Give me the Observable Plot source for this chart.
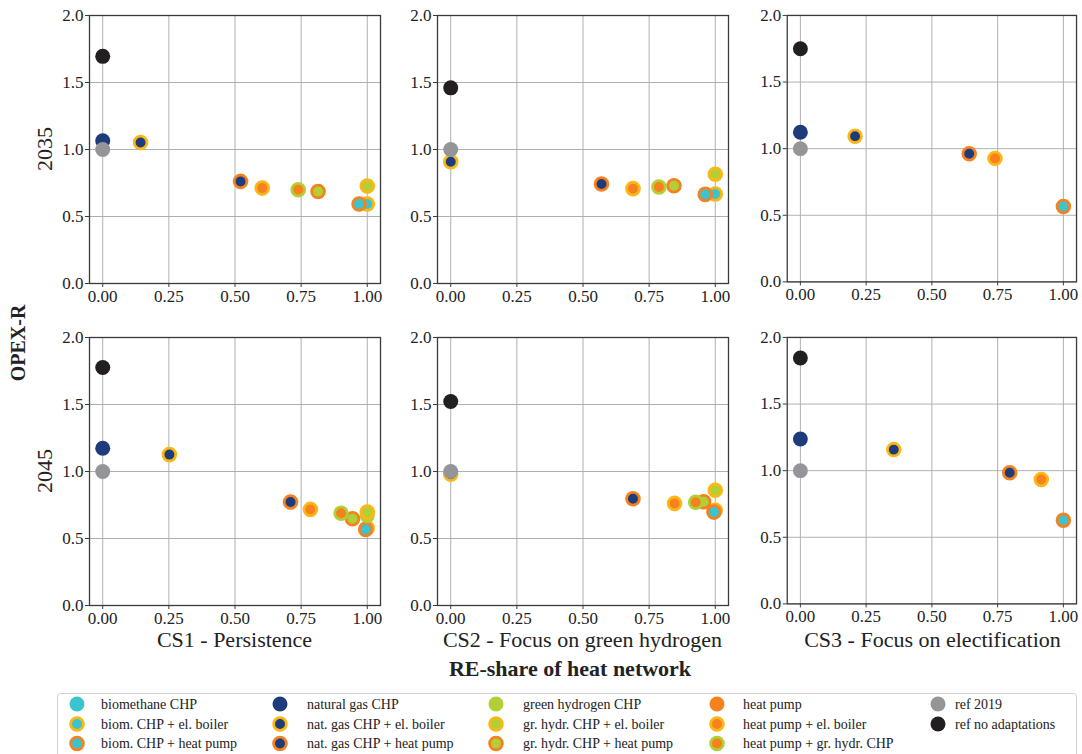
<!DOCTYPE html>
<html><head><meta charset="utf-8">
<script src="https://cdn.jsdelivr.net/npm/d3@7"></script>
<script src="https://cdn.jsdelivr.net/npm/@observablehq/plot@0.6"></script>
<style>
body{margin:0;background:#fff;}
#fig{position:relative;width:1082px;height:754px;font-family:"Liberation Serif","Times New Roman",serif;color:#222;overflow:hidden;background:#fff;}
.panel{position:absolute;}
.panel svg text{font-family:"Liberation Serif","Times New Roman",serif;}
.lbl{position:absolute;white-space:nowrap;transform:translate(-50%,-50%);line-height:1;}
.rot{transform:translate(-50%,-50%) rotate(-90deg);}
</style></head><body><div id="fig"></div>
<script>
// ---- categories (legend order = drawing order) ----
const categories = [
  "biomethane CHP", "biom. CHP + el. boiler", "biom. CHP + heat pump",
  "natural gas CHP", "nat. gas CHP + el. boiler", "nat. gas CHP + heat pump",
  "green hydrogen CHP", "gr. hydr. CHP + el. boiler", "gr. hydr. CHP + heat pump",
  "heat pump", "heat pump + el. boiler", "heat pump + gr. hydr. CHP",
  "ref 2019", "ref no adaptations"
];
const CYAN="#3cc3ce", NAVY="#1e3c7c", GREEN="#b2cf37", ORANGE="#f5821f", YELLOW="#fdb714", GREY="#939598", BLACK="#231f20";
const faceColors = [CYAN,CYAN,CYAN, NAVY,NAVY,NAVY, GREEN,GREEN,GREEN, ORANGE,ORANGE,ORANGE, GREY,BLACK];
const ringColors = [null,YELLOW,ORANGE, null,YELLOW,ORANGE, null,YELLOW,ORANGE, null,YELLOW,GREEN, null,null];

const xTicks = [0, 0.25, 0.5, 0.75, 1];
const yTicks = [0, 0.5, 1, 1.5, 2];
const caseLabels = ["CS1 - Persistence", "CS2 - Focus on green hydrogen", "CS3 - Focus on electification"];
const yearLabels = ["2035", "2045"];

// ---- data: [category, RE-share, OPEX-R] ----
const cs1_2035 = [
  ["natural gas CHP", 0, 1.065],
  ["nat. gas CHP + el. boiler", 0.143, 1.052],
  ["nat. gas CHP + heat pump", 0.521, 0.762],
  ["heat pump + el. boiler", 0.603, 0.712],
  ["heat pump + gr. hydr. CHP", 0.739, 0.700],
  ["gr. hydr. CHP + heat pump", 0.814, 0.687],
  ["gr. hydr. CHP + el. boiler", 1.0, 0.727],
  ["biom. CHP + el. boiler", 1.0, 0.593],
  ["biom. CHP + heat pump", 0.969, 0.593],
  ["ref 2019", 0, 1.0],
  ["ref no adaptations", 0, 1.695]
];
const cs2_2035 = [
  ["nat. gas CHP + el. boiler", 0, 0.909],
  ["nat. gas CHP + heat pump", 0.570, 0.742],
  ["heat pump + el. boiler", 0.689, 0.708],
  ["heat pump + gr. hydr. CHP", 0.787, 0.720],
  ["gr. hydr. CHP + heat pump", 0.844, 0.730],
  ["gr. hydr. CHP + el. boiler", 1.0, 0.815],
  ["biom. CHP + el. boiler", 1.0, 0.668],
  ["biom. CHP + heat pump", 0.962, 0.665],
  ["ref 2019", 0, 1.0],
  ["ref no adaptations", 0, 1.46]
];
const cs3_2035 = [
  ["natural gas CHP", 0, 1.123],
  ["nat. gas CHP + el. boiler", 0.208, 1.094],
  ["nat. gas CHP + heat pump", 0.642, 0.962],
  ["heat pump + el. boiler", 0.740, 0.927],
  ["biom. CHP + heat pump", 1.0, 0.566],
  ["ref 2019", 0, 1.0],
  ["ref no adaptations", 0, 1.75]
];
const cs1_2045 = [
  ["natural gas CHP", 0, 1.173],
  ["nat. gas CHP + el. boiler", 0.252, 1.126],
  ["nat. gas CHP + heat pump", 0.710, 0.772],
  ["heat pump + el. boiler", 0.785, 0.717],
  ["heat pump + gr. hydr. CHP", 0.901, 0.688],
  ["gr. hydr. CHP + heat pump", 0.944, 0.647],
  ["green hydrogen CHP", 1.0, 0.670],
  ["gr. hydr. CHP + el. boiler", 1.0, 0.697],
  ["biom. CHP + el. boiler", 1.0, 0.578],
  ["biom. CHP + heat pump", 0.994, 0.568],
  ["ref 2019", 0, 1.0],
  ["ref no adaptations", 0, 1.776]
];
const cs2_2045 = [
  ["nat. gas CHP + el. boiler", 0, 0.98],
  ["nat. gas CHP + heat pump", 0.689, 0.797],
  ["heat pump + el. boiler", 0.846, 0.762],
  ["heat pump + gr. hydr. CHP", 0.926, 0.770],
  ["gr. hydr. CHP + heat pump", 0.956, 0.774],
  ["gr. hydr. CHP + el. boiler", 1.0, 0.860],
  ["biom. CHP + el. boiler", 1.0, 0.710],
  ["biom. CHP + heat pump", 0.995, 0.697],
  ["ref 2019", 0, 1.0],
  ["ref no adaptations", 0, 1.522]
];
const cs3_2045 = [
  ["natural gas CHP", 0, 1.238],
  ["nat. gas CHP + el. boiler", 0.355, 1.158],
  ["nat. gas CHP + heat pump", 0.796, 0.984],
  ["heat pump + el. boiler", 0.916, 0.934],
  ["biom. CHP + heat pump", 1.0, 0.628],
  ["ref 2019", 0, 1.0],
  ["ref no adaptations", 0, 1.846]
];
const panels = [[cs1_2035, cs2_2035, cs3_2035], [cs1_2045, cs2_2045, cs3_2045]];

// ---- layout ----
const fig = document.getElementById("fig");
const FONT = '"Liberation Serif","Times New Roman",serif';
const colLeft = [89, 437, 787], rowTop = [15, 337];
const PW = 291, PH = 268;
const mL = 45, mR = 6, mT = 8, mB = 28;

function makePanel(points) {
  const marks = [
    Plot.gridX(xTicks, {stroke: "#b0b0b0", strokeOpacity: 1, strokeWidth: 1}),
    Plot.gridY(yTicks, {stroke: "#b0b0b0", strokeOpacity: 1, strokeWidth: 1})
  ];
  categories.forEach((c, i) => {
    const pts = points.filter(p => p[0] === c);
    if (!pts.length) return;
    const ring = ringColors[i];
    marks.push(Plot.dot(pts, {
      x: d => d[1], y: d => d[2],
      r: ring ? 6.4 : 7.5,
      fill: faceColors[i],
      stroke: ring || "none",
      strokeWidth: ring ? 2.8 : 0
    }));
  });
  marks.push(Plot.frame({stroke: "#3a3a3a", strokeWidth: 1.3}));
  marks.push(Plot.axisX(xTicks, {tickFormat: d3.format(".2f"), tickSize: 4, tickPadding: 2, stroke: "#3a3a3a", fill: "#222", fontSize: 17, fontFamily: FONT}));
  marks.push(Plot.axisY(yTicks, {tickFormat: d3.format(".1f"), tickSize: 4, tickPadding: 2, stroke: "#3a3a3a", fill: "#222", fontSize: 17, fontFamily: FONT}));
  return Plot.plot({
    width: PW + mL + mR, height: PH + mT + mB,
    marginLeft: mL, marginRight: mR, marginTop: mT, marginBottom: mB,
    x: {domain: [-0.05, 1.05], label: null},
    y: {domain: [0, 2], label: null},
    style: {fontFamily: FONT, fontSize: "17px", color: "#222", background: "transparent", overflow: "visible"},
    marks
  });
}

panels.forEach((row, r) => row.forEach((pts, c) => {
  const svg = makePanel(pts);
  const wrap = document.createElement("div");
  wrap.className = "panel";
  wrap.style.left = (colLeft[c] - mL) + "px";
  wrap.style.top = (rowTop[r] - mT) + "px";
  wrap.appendChild(svg);
  fig.appendChild(wrap);
}));

function label(text, x, y, size, opts = {}) {
  const d = document.createElement("div");
  d.className = "lbl" + (opts.rot ? " rot" : "");
  d.textContent = text;
  d.style.left = x + "px"; d.style.top = y + "px";
  d.style.fontSize = size + "px";
  if (opts.bold) d.style.fontWeight = "bold";
  fig.appendChild(d);
}
yearLabels.forEach((t, r) => label(t, 45, rowTop[r] + PH / 2, 22, {rot: true}));
caseLabels.forEach((t, c) => label(t, colLeft[c] + PW / 2, 640, 22));
label("OPEX-R", 18, 343, 20, {rot: true, bold: true});
label("RE-share of heat network", 570, 669, 22, {bold: true});

// ---- legend ----
const legCols = [[0,1,2],[3,4,5],[6,7,8],[9,10,11],[12,13]];
const legMarkX = [77, 280, 496, 717, 938];
const legTextX = [101, 307, 523, 743, 955];
const legRowY = [704, 724, 743.5];
const leg = d3.create("svg").attr("width", 1082).attr("height", 754)
  .style("position", "absolute").style("left", "0px").style("top", "0px").style("pointer-events", "none");
leg.append("rect").attr("x", 57.5).attr("y", 693.5).attr("width", 1019).attr("height", 80)
  .attr("rx", 3).attr("fill", "#fff").attr("stroke", "#d0d0d0").attr("stroke-width", 1);
legCols.forEach((col, ci) => col.forEach((k, ri) => {
  const ring = ringColors[k];
  leg.append("circle").attr("cx", legMarkX[ci]).attr("cy", legRowY[ri])
    .attr("r", ring ? 6.4 : 7.5).attr("fill", faceColors[k])
    .attr("stroke", ring || "none").attr("stroke-width", ring ? 2.8 : 0);
  leg.append("text").attr("x", legTextX[ci]).attr("y", legRowY[ri]).attr("dy", "0.35em")
    .attr("font-family", FONT).attr("font-size", 14).attr("fill", "#222").text(categories[k]);
}));
fig.appendChild(leg.node());
</script></body></html>
